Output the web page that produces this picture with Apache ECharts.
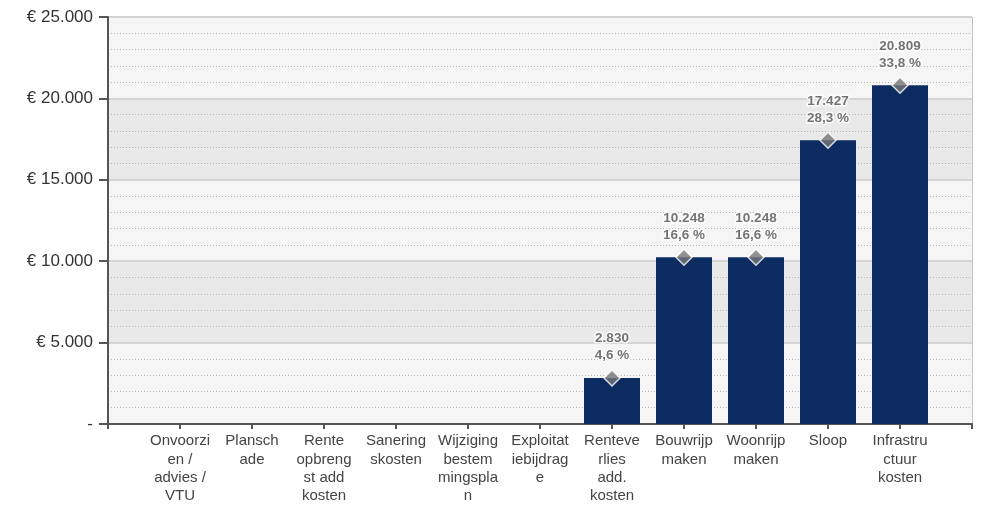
<!DOCTYPE html>
<html>
<head>
<meta charset="utf-8">
<script src="https://cdn.jsdelivr.net/npm/echarts@6/dist/echarts.min.js"></script>
<style>
  html, body { margin: 0; padding: 0; background: #ffffff; }
  #chart { width: 984px; height: 509px; }
</style>
</head>
<body>
<div id="chart"></div>
<script>
// Cost categories (line breaks as they wrap under the axis)
const categories = [
  'Onvoorzi\nen /\nadvies /\nVTU',
  'Plansch\nade',
  'Rente\nopbreng\nst add\nkosten',
  'Sanering\nskosten',
  'Wijziging\nbestem\nmingspla\nn',
  'Exploitat\niebijdrag\ne',
  'Renteve\nrlies\nadd.\nkosten',
  'Bouwrijp\nmaken',
  'Woonrijp\nmaken',
  'Sloop',
  'Infrastru\nctuur\nkosten'
];
// Amount per category (euro)
const amounts = [0, 0, 0, 0, 0, 0, 2830, 10248, 10248, 17427, 20809];
// Share of the total (percent)
const shares = [0, 0, 0, 0, 0, 0, 4.6, 16.6, 16.6, 28.3, 33.8];
// Y axis ticks
const yTicks = [0, 5000, 10000, 15000, 20000, 25000];

function fmtThousands(v) {
  return String(Math.round(v)).replace(/\B(?=(\d{3})+(?!\d))/g, '.');
}

// pad an empty slot at both ends so the axis reaches past the first and last bars
const axisCats = [''].concat(categories, ['']);
const barData = [null].concat(amounts.map(v => v > 0 ? v : null), [null]);
const pointData = [null].concat(amounts.map((v, i) => v > 0 ? { value: v, share: shares[i] } : null), [null]);

const chart = echarts.init(document.getElementById('chart'), null, { renderer: 'canvas' });
chart.setOption({
  animation: false,
  backgroundColor: '#ffffff',
  grid: {
    left: 108, right: 12, top: 17, bottom: 85,
    show: true, borderColor: '#8a8a8a', borderWidth: 1, backgroundColor: 'transparent'
  },
  xAxis: {
    type: 'category',
    data: axisCats,
    boundaryGap: false,
    axisLine: { lineStyle: { color: '#555555', width: 2 } },
    axisTick: { show: true, length: 5, lineStyle: { color: '#555555', width: 2 } },
    axisLabel: {
      interval: 0, color: '#444444', fontSize: 15, lineHeight: 18.3,
      fontFamily: 'Liberation Sans, Arial, sans-serif', margin: 8
    },
    splitLine: { show: false }
  },
  yAxis: {
    type: 'value',
    min: yTicks[0], max: yTicks[yTicks.length - 1], interval: 5000,
    axisLine: { show: true, lineStyle: { color: '#555555', width: 2 } },
    axisTick: { show: true, length: 9, lineStyle: { color: '#555555', width: 2 } },
    axisLabel: {
      color: '#333333', fontSize: 17, margin: 15,
      fontFamily: 'Liberation Sans, Arial, sans-serif',
      formatter: v => v === 0 ? '-' : '€ ' + fmtThousands(v)
    },
    splitLine: { show: true, lineStyle: { color: '#d4d4d4', width: 2 } },
    splitArea: { show: true, areaStyle: { color: ['#f5f5f5', '#e9e9e9'] } },
    minorTick: { show: false, splitNumber: 5 },
    minorSplitLine: { show: true, lineStyle: { color: '#b4b4b4', width: 1, type: [1, 2] } }
  },
  series: [
    {
      type: 'bar',
      data: barData,
      barWidth: 56,
      itemStyle: { color: '#0b2b61' },
      z: 2
    },
    {
      type: 'scatter',
      data: pointData,
      symbol: 'diamond',
      symbolSize: 16,
      itemStyle: { color: '#777777', borderColor: '#ffffff', borderWidth: 1.5 },
      label: {
        show: true,
        position: 'top',
        distance: 5,
        color: '#505050',
        fontSize: 13.5,
        fontWeight: 'bold',
        lineHeight: 17,
        fontFamily: 'Liberation Sans, Arial, sans-serif',
        textBorderColor: '#ffffff',
        textBorderWidth: 3,
        formatter: p => fmtThousands(p.data.value) + '\n' + p.data.share.toFixed(1).replace('.', ',') + ' %'
      },
      z: 5
    }
  ]
});
</script>
</body>
</html>
